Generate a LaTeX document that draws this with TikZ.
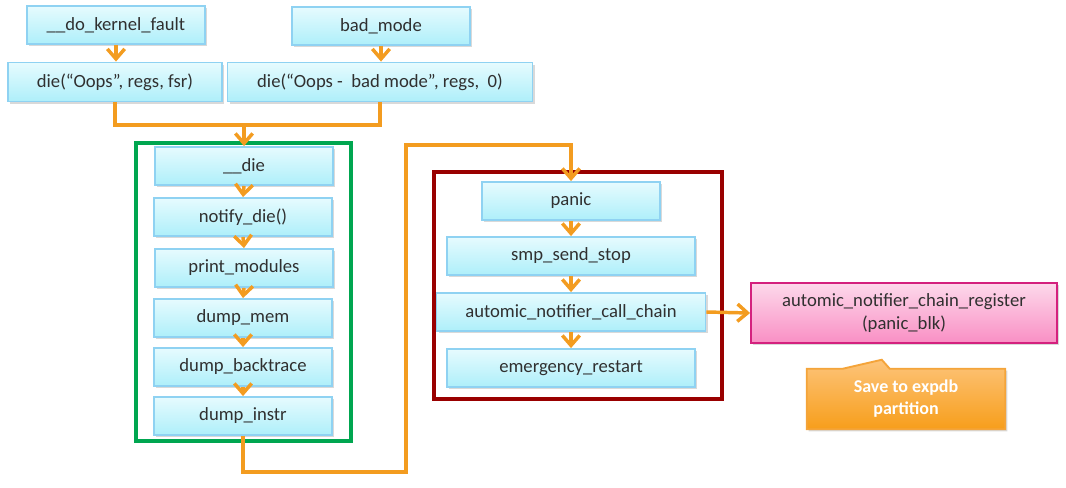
\documentclass[tikz,border=0pt]{standalone}
\usepackage{fontspec}
\setmainfont{Carlito}
\usetikzlibrary{arrows.meta,shadows,calc}
\newlength\pix
\setlength\pix{0.75pt}
\definecolor{boxline}{HTML}{8FD2F2}
\definecolor{boxtop}{HTML}{E6FBFE}
\definecolor{boxbot}{HTML}{AEEFFA}
\definecolor{regline}{HTML}{D4217E}
\definecolor{regtop}{HTML}{FDD9EB}
\definecolor{regbot}{HTML}{F98FC4}
\definecolor{notetop}{HTML}{FDC47A}
\definecolor{notebot}{HTML}{F79E1B}
\definecolor{noteline}{HTML}{F4A43A}
\definecolor{flow}{HTML}{F39C20}
\definecolor{diegreen}{HTML}{00A650}
\definecolor{panicred}{HTML}{990000}
\definecolor{txt}{HTML}{303030}
\tikzset{
  func/.style={draw=boxline, line width=1.4pt, top color=boxtop, bottom color=boxbot,
    minimum width=178\pix, minimum height=38\pix, inner sep=0pt, text=txt,
    font=\fontsize{14}{17}\selectfont,
    drop shadow={opacity=0.3, shadow xshift=1.5pt, shadow yshift=-1.5pt}},
  hook/.style={func, draw=regline, top color=regtop, bottom color=regbot, align=center},
  frame/.style={line width=2.7pt},
  link/.style={draw=flow, line width=2.6pt},
  flowarrow/.style={link, -{Straight Barb[length=7.5pt,width=13pt,line width=2.6pt]}}
}

\begin{document}
\begin{tikzpicture}[x=0.75pt, y=-0.75pt]
  \useasboundingbox (0,0) rectangle (1066,487);

  % entry points
  \node[func, minimum width=178\pix] (kfault) at (116,25) {\_\_do\_kernel\_fault};
  \node[func, minimum width=178\pix] (badmode) at (381,26) {bad\_mode};
  \node[func, minimum width=214\pix, minimum height=39\pix] (die1) at (115,82) {die(“Oops”, regs, fsr)};
  \node[func, minimum width=305\pix, minimum height=39\pix] (die2) at (380,82) {die(“Oops -~ bad mode”, regs,~ 0)};

  % __die chain
  \draw[frame, diegreen] (136,143) rectangle (351,441);
  \node[func] (kdie) at (244,166) {\_\_die};
  \node[func] (notify) at (243,217) {notify\_die()};
  \node[func] (modules) at (244,268) {print\_modules};
  \node[func] (mem) at (243,318) {dump\_mem};
  \node[func] (backtrace) at (243,367) {dump\_backtrace};
  \node[func] (instr) at (243,416) {dump\_instr};

  % panic chain
  \draw[frame, panicred] (434,172) rectangle (722,399);
  \node[func] (panic) at (571,201) {panic};
  \node[func, minimum width=248\pix] (smp) at (571,256) {smp\_send\_stop};
  \node[func, minimum width=269\pix] (callchain) at (571,312) {automic\_notifier\_call\_chain};
  \node[func, minimum width=248\pix] (restart) at (571,368) {emergency\_restart};

  \node[hook, minimum width=306\pix, minimum height=60\pix] (register) at (904,313)
    {automic\_notifier\_chain\_register\\(panic\_blk)};

  % callout
  \node[minimum width=198\pix, minimum height=60\pix, inner sep=0pt] (note) at (906,399) {};
  \path[draw=noteline, line width=1.4pt, top color=notetop, bottom color=notebot,
    drop shadow={opacity=0.3, shadow xshift=1.5pt, shadow yshift=-1.5pt}]
    (note.south west) -- (note.north west) -- ($(note.north west)+(36,0)$)
    -- ($(note.north west)+(75,-9)$) -- ($(note.north west)+(83,0)$)
    -- (note.north east) -- (note.south east) -- cycle;
  \node[text=white, font=\fontsize{13.5}{16.5}\selectfont\bfseries, align=center] at (note) {Save to expdb\\partition};

  % connectors
  \coordinate (merge) at (244,125);
  \coordinate (low) at (406,472);
  \coordinate (high) at (406,145);
  \draw[flowarrow] (kfault) -- (kfault |- die1.north);
  \draw[flowarrow] (badmode) -- (badmode |- die2.north);
  \draw[link] (die1.south) |- (merge) -| (die2.south);
  \draw[flowarrow] (merge) -- (kdie.north);
  \draw[flowarrow] (kdie.south) -- (notify.north);
  \draw[flowarrow] (notify.south) -- (modules.north);
  \draw[flowarrow] (modules.south) -- (mem.north);
  \draw[flowarrow] (mem.south) -- (backtrace.north);
  \draw[flowarrow] (backtrace.south) -- (instr.north);
  \draw[flowarrow] (instr.south) |- (low) -- (high) -| (panic.north);
  \draw[flowarrow] (panic.south) -- (smp.north);
  \draw[flowarrow] (smp.south) -- (callchain.north);
  \draw[flowarrow] (callchain.south) -- (restart.north);
  \draw[flowarrow] (callchain.east) -- (register.west);
\end{tikzpicture}
\end{document}
